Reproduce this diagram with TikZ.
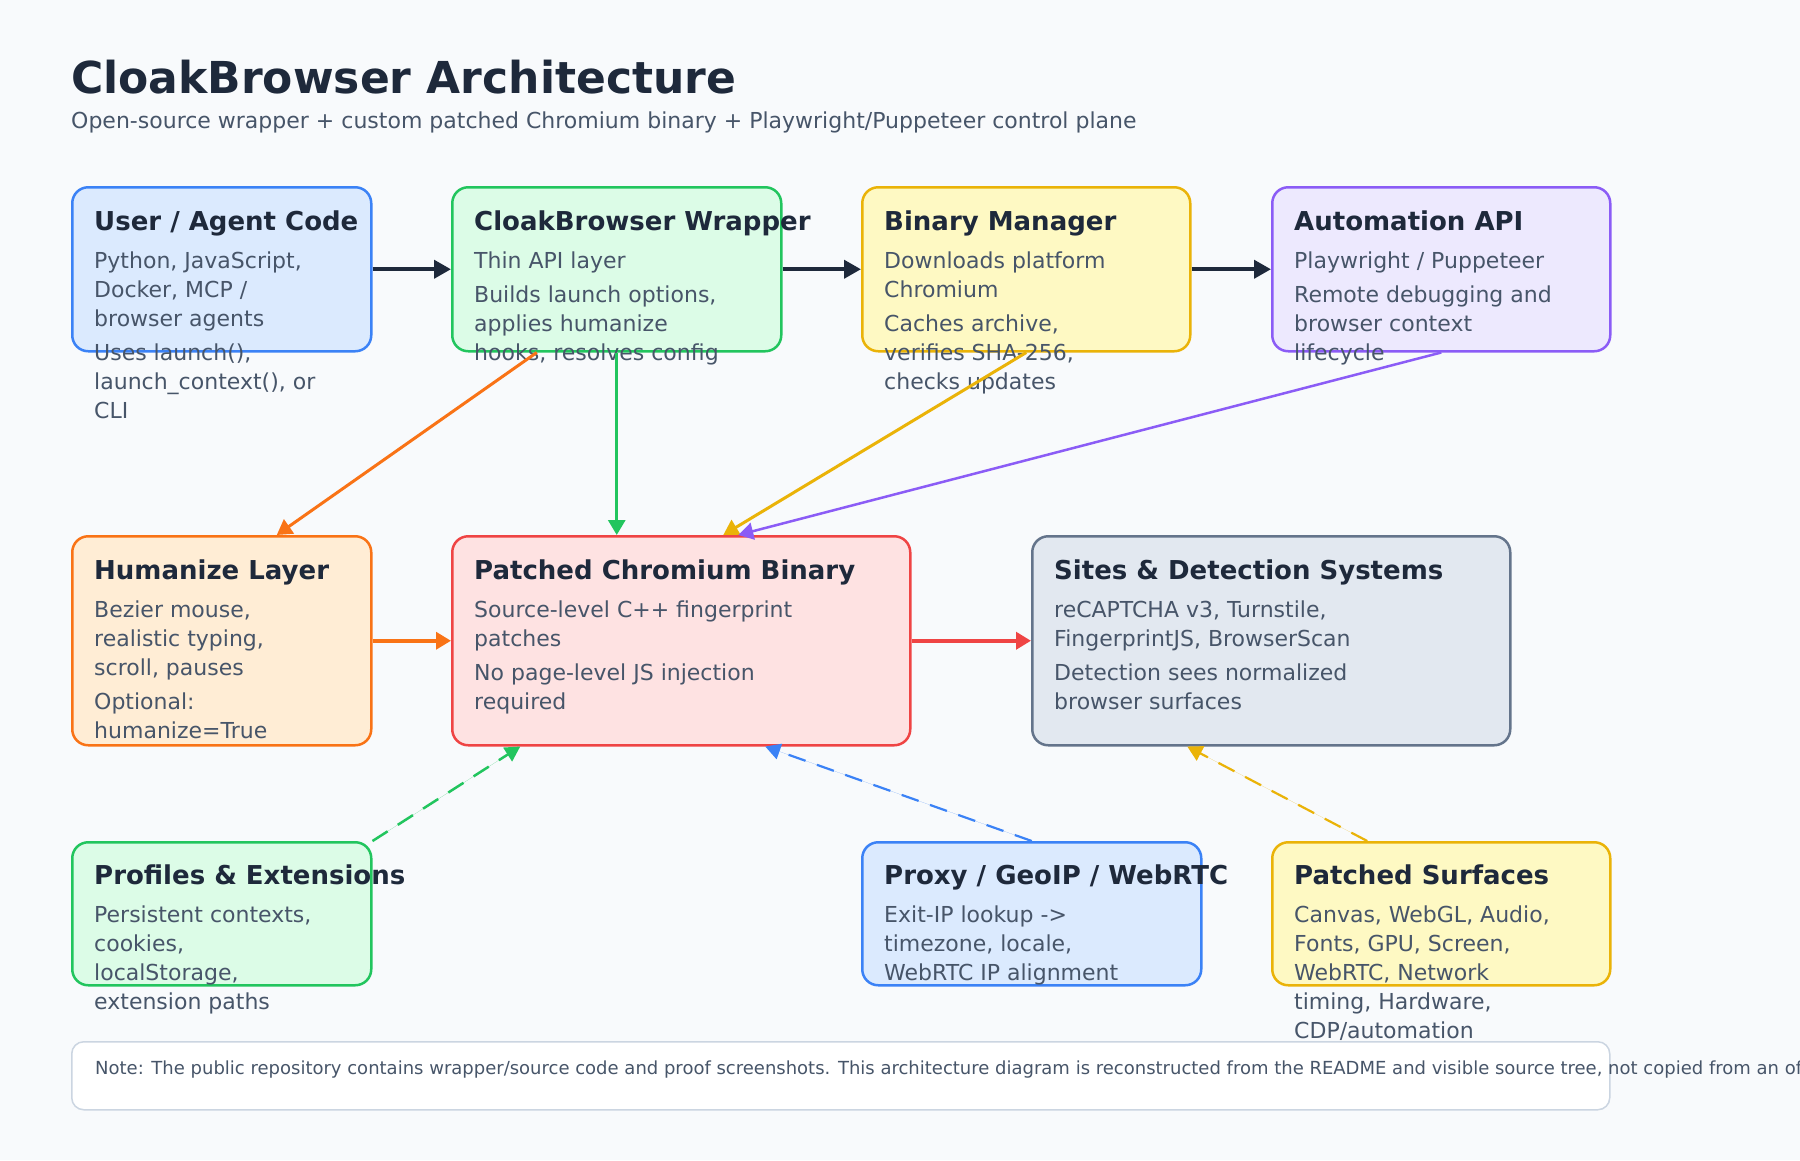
\documentclass[tikz,border=0pt]{standalone}
\usepackage{fontspec}
\setmainfont{DejaVu Sans}
\usepackage{tikz}
\usetikzlibrary{arrows.meta}
\definecolor{cloakbg}{HTML}{F8FAFC}
\definecolor{cloakink}{HTML}{1E293B}
\definecolor{cloakgrey}{HTML}{475569}
\definecolor{cloakblue}{HTML}{3B82F6}
\definecolor{cloakbluefill}{HTML}{DBEAFE}
\definecolor{cloakgreen}{HTML}{22C55E}
\definecolor{cloakgreenfill}{HTML}{DCFCE7}
\definecolor{cloakyellow}{HTML}{EAB308}
\definecolor{cloakyellowfill}{HTML}{FEF9C3}
\definecolor{cloakpurple}{HTML}{8B5CF6}
\definecolor{cloakpurplefill}{HTML}{EDE9FE}
\definecolor{cloakorange}{HTML}{F97316}
\definecolor{cloakorangefill}{HTML}{FFEDD5}
\definecolor{cloakred}{HTML}{EF4444}
\definecolor{cloakredfill}{HTML}{FEE2E2}
\definecolor{cloakslate}{HTML}{64748B}
\definecolor{cloakslatefill}{HTML}{E2E8F0}
\definecolor{cloaknoteline}{HTML}{CBD5E1}
\newcommand{\cloakheadfont}{\fontsize{44}{52}\selectfont\bfseries}
\newcommand{\cloaksubfont}{\fontsize{22}{26}\selectfont}
\newcommand{\cloaktitlefont}{\fontsize{26}{30}\selectfont\bfseries}
\newcommand{\cloakbodyfont}{\fontsize{22}{29}\selectfont}
\newcommand{\cloaknotefont}{\fontsize{18}{22}\selectfont}
\newcommand{\cloaklines}[1]{\begin{tabular}[t]{@{}l@{}}#1\end{tabular}}
\tikzset{
    cloak/chart/.style={x=1pt, y=-1pt},
    cloak/box/.style={rectangle, rounded corners=16pt, line width=2.5pt, anchor=north west, inner sep=0pt},
    cloak/bluebox/.style={cloak/box, draw=cloakblue, fill=cloakbluefill},
    cloak/greenbox/.style={cloak/box, draw=cloakgreen, fill=cloakgreenfill},
    cloak/yellowbox/.style={cloak/box, draw=cloakyellow, fill=cloakyellowfill},
    cloak/purplebox/.style={cloak/box, draw=cloakpurple, fill=cloakpurplefill},
    cloak/orangebox/.style={cloak/box, draw=cloakorange, fill=cloakorangefill},
    cloak/redbox/.style={cloak/box, draw=cloakred, fill=cloakredfill},
    cloak/slatebox/.style={cloak/box, draw=cloakslate, fill=cloakslatefill},
    cloak/notebox/.style={cloak/box, rounded corners=12pt, line width=1.5pt, draw=cloaknoteline, fill=white},
    cloak/title/.style={anchor=base west, inner sep=0pt, font=\cloaktitlefont, text=cloakink},
    cloak/body/.style={anchor=base west, inner sep=0pt, font=\cloakbodyfont, text=cloakgrey},
    cloak/arrow/.style={-{Triangle[length=17pt, width=18pt]}, line width=4pt, draw=cloakink},
    cloak/link/.style={-{Triangle[length=15pt, width=17pt]}, line width=3pt},
    cloak/dashlink/.style={-{Triangle[length=15pt, width=16pt]}, line width=2.2pt, dash pattern=on 18pt off 12pt}
}
\begin{document}
\begin{tikzpicture}[cloak/chart]
    \fill[cloakbg] (0,0) rectangle (1800,1160);
    \useasboundingbox (0,0) rectangle (1800,1160);
    \node[anchor=base west, inner sep=0pt, font=\cloakheadfont, text=cloakink] (heading) at (71,93) {CloakBrowser Architecture};
    \node[anchor=base west, inner sep=0pt, font=\cloaksubfont, text=cloakgrey] (subheading) at (71,128) {Open-source wrapper + custom patched Chromium binary + Playwright/Puppeteer control plane};
    % top row
    \node[cloak/bluebox, minimum width=299pt, minimum height=164pt] (user) at (71,186) {};
    \node[cloak/greenbox, minimum width=329pt, minimum height=164pt] (wrapper) at (451,186) {};
    \node[cloak/yellowbox, minimum width=328pt, minimum height=164pt] (binary) at (861,186) {};
    \node[cloak/purplebox, minimum width=338pt, minimum height=164pt] (automation) at (1271,186) {};
    % middle row
    \node[cloak/orangebox, minimum width=299pt, minimum height=209pt] (humanize) at (71,535) {};
    \node[cloak/redbox, minimum width=458pt, minimum height=209pt] (chromium) at (451,535) {};
    \node[cloak/slatebox, minimum width=478pt, minimum height=209pt] (sites) at (1031,535) {};
    % bottom row
    \node[cloak/greenbox, minimum width=299pt, minimum height=143pt] (profiles) at (71,841) {};
    \node[cloak/bluebox, minimum width=339pt, minimum height=143pt] (proxy) at (861,841) {};
    \node[cloak/yellowbox, minimum width=338pt, minimum height=143pt] (surfaces) at (1271,841) {};
    \node[cloak/notebox, minimum width=1538pt, minimum height=68pt] (note) at (71,1041) {};
    % texts
    \node[cloak/title] (usertitle) at (94,230) {User / Agent Code};
    \node[cloak/body] (userbody) at (94,268) {\cloaklines{Python, JavaScript,\\Docker, MCP /\\browser agents\\[5pt]Uses launch(),\\launch\_context(), or\\CLI}};
    \node[cloak/title] (wrappertitle) at (474,230) {CloakBrowser Wrapper};
    \node[cloak/body] (wrapperbody) at (474,268) {\cloaklines{Thin API layer\\[5pt]Builds launch options,\\applies humanize\\hooks, resolves config}};
    \node[cloak/title] (binarytitle) at (884,230) {Binary Manager};
    \node[cloak/body] (binarybody) at (884,268) {\cloaklines{Downloads platform\\Chromium\\[5pt]Caches archive,\\verifies SHA-256,\\checks updates}};
    \node[cloak/title] (automationtitle) at (1294,230) {Automation API};
    \node[cloak/body] (automationbody) at (1294,268) {\cloaklines{Playwright / Puppeteer\\[5pt]Remote debugging and\\browser context\\lifecycle}};
    \node[cloak/title] (humanizetitle) at (94,579) {Humanize Layer};
    \node[cloak/body] (humanizebody) at (94,617) {\cloaklines{Bezier mouse,\\realistic typing,\\scroll, pauses\\[5pt]Optional:\\humanize=True}};
    \node[cloak/title] (chromiumtitle) at (474,579) {Patched Chromium Binary};
    \node[cloak/body] (chromiumbody) at (474,617) {\cloaklines{Source-level C++ fingerprint\\patches\\[5pt]No page-level JS injection\\required}};
    \node[cloak/title] (sitestitle) at (1054,579) {Sites \& Detection Systems};
    \node[cloak/body] (sitesbody) at (1054,617) {\cloaklines{reCAPTCHA v3, Turnstile,\\FingerprintJS, BrowserScan\\[5pt]Detection sees normalized\\browser surfaces}};
    \node[cloak/title] (profilestitle) at (94,884) {Profiles \& Extensions};
    \node[cloak/body] (profilesbody) at (94,922) {\cloaklines{Persistent contexts,\\cookies,\\localStorage,\\extension paths}};
    \node[cloak/title] (proxytitle) at (884,884) {Proxy / GeoIP / WebRTC};
    \node[cloak/body] (proxybody) at (884,922) {\cloaklines{Exit-IP lookup ->\\timezone, locale,\\WebRTC IP alignment}};
    \node[cloak/title] (surfacestitle) at (1294,884) {Patched Surfaces};
    \node[cloak/body] (surfacesbody) at (1294,922) {\cloaklines{Canvas, WebGL, Audio,\\Fonts, GPU, Screen,\\WebRTC, Network\\timing, Hardware,\\CDP/automation}};
    \node[anchor=base west, inner sep=0pt, font=\cloaknotefont, text=cloakgrey] (notetext) at (95,1074) {Note: The public repository contains wrapper/source code and proof screenshots. This architecture diagram is reconstructed from the README and visible source tree, not copied from an official diagram.};
    % connectors
    \foreach \source/\target in {user/wrapper,wrapper/binary,binary/automation}
        \draw[cloak/arrow] (\source) -- (\target);
    \draw[cloak/link, draw=cloakorange, fill=cloakorange] ([xshift=-80pt]wrapper.south) -- ([xshift=55pt]humanize.north);
    \draw[cloak/link, draw=cloakgreen, fill=cloakgreen] (wrapper.south) -- (wrapper.south |- chromium.north);
    \draw[cloak/link, draw=cloakyellow, fill=cloakyellow] (binary.south) -- ([xshift=42pt]chromium.north);
    \draw[cloak/link, line width=2.5pt, draw=cloakpurple, fill=cloakpurple] (automation.south) -- ([xshift=57pt]chromium.north);
    \draw[cloak/link, line width=3.5pt, draw=cloakorange, fill=cloakorange] (humanize) -- (chromium);
    \draw[cloak/link, line width=4pt, draw=cloakred, fill=cloakred] (chromium) -- (sites);
    \draw[cloak/dashlink, line width=2.5pt, draw=cloakgreen, fill=cloakgreen] (profiles.north east) -- ([xshift=-161pt]chromium.south);
    \draw[cloak/dashlink, draw=cloakblue, fill=cloakblue] (proxy.north) -- ([xshift=84pt]chromium.south);
    \draw[cloak/dashlink, draw=cloakyellow, fill=cloakyellow] ([xshift=-74pt]surfaces.north) -- ([xshift=-84pt]sites.south);
\end{tikzpicture}
\end{document}
